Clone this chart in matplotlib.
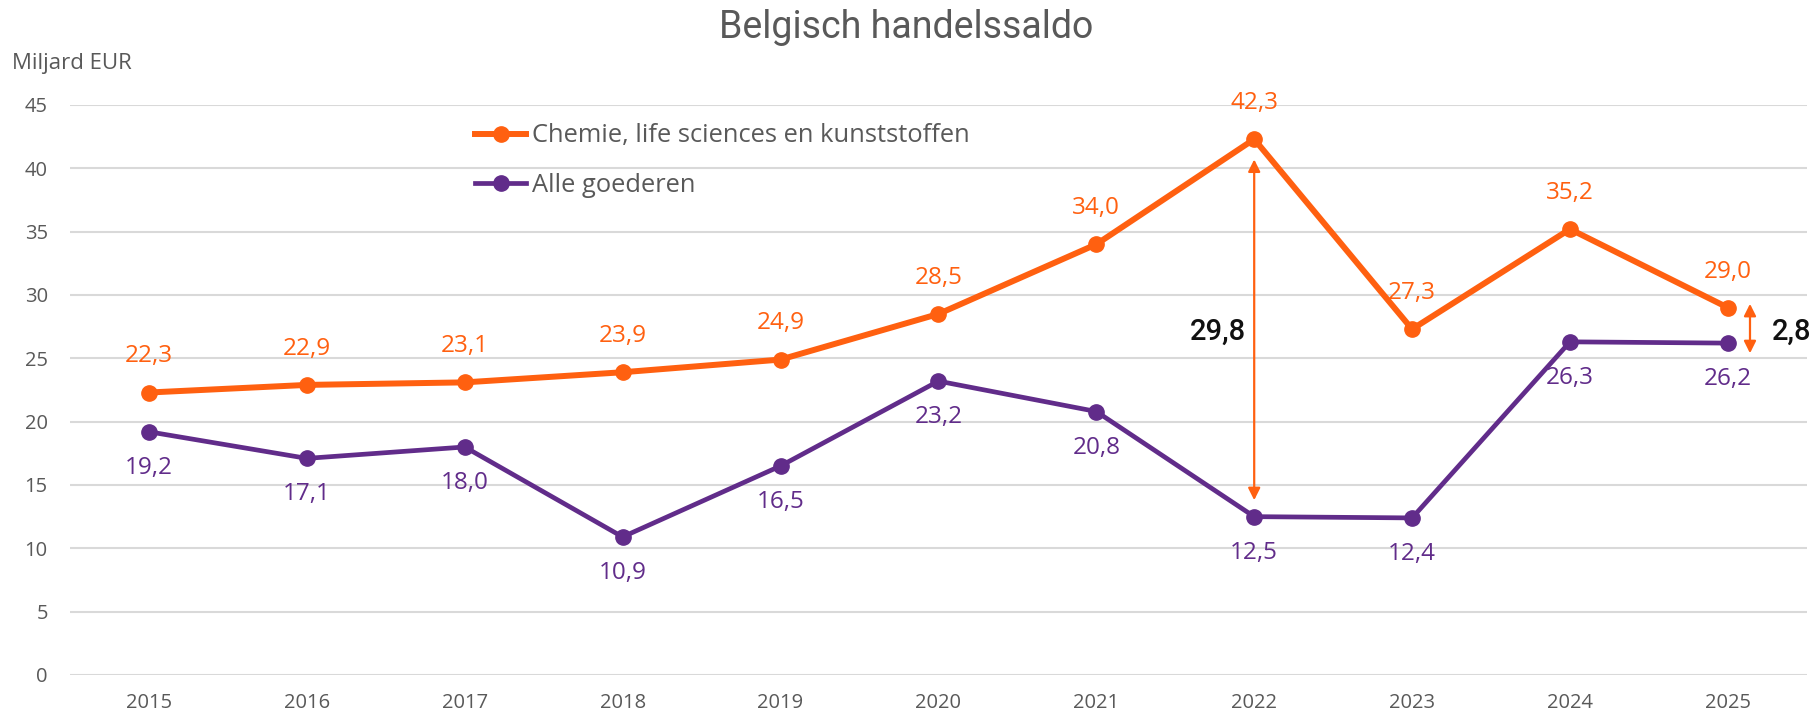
import matplotlib
matplotlib.use("Agg")
import matplotlib.pyplot as plt
import numpy as np

# data
years = ["2015", "2016", "2017", "2018", "2019", "2020", "2021", "2022", "2023", "2024", "2025"]
chemie = [22.3, 22.9, 23.1, 23.9, 24.9, 28.5, 34.0, 42.3, 27.3, 35.2, 29.0]
alle = [19.2, 17.1, 18.0, 10.9, 16.5, 23.2, 20.8, 12.5, 12.4, 26.3, 26.2]

ORANGE = "#FF6010"
PURPLE = "#612C8A"
GREY = "#595959"
GRID = "#D9D9D9"
FONT = ["Open Sans", "DejaVu Sans"]
BLACKFONT = ["Roboto", "DejaVu Sans"]

plt.rcParams["font.family"] = FONT

fig = plt.figure(figsize=(18.13, 7.17), dpi=100)
ax = fig.add_axes([0.0386, 0.0586, 0.958, 0.795])

x = np.arange(len(years))
ax.plot(x, chemie, color=ORANGE, lw=4.3, marker="o", ms=11,
        label="Chemie, life sciences en kunststoffen", zorder=4)
ax.plot(x, alle, color=PURPLE, lw=3.4, marker="o", ms=11,
        label="Alle goederen", zorder=4)

# data labels
for i, v in enumerate(chemie):
    ax.annotate(f"{v:.1f}".replace(".", ","), (i, v), xytext=(0, 26),
                textcoords="offset points", ha="center", va="center",
                color=ORANGE, fontsize=17.5)
for i, v in enumerate(alle):
    ax.annotate(f"{v:.1f}".replace(".", ","), (i, v), xytext=(0, -26),
                textcoords="offset points", ha="center", va="center",
                color=PURPLE, fontsize=17.5)

# verschil-pijlen
i22 = years.index("2022")
d22 = chemie[i22] - alle[i22]
ax.annotate("", xy=(i22, chemie[i22] - 1.6), xytext=(i22, alle[i22] + 1.3),
            arrowprops=dict(arrowstyle="<|-|>", color=ORANGE, lw=1.6,
                            mutation_scale=18, shrinkA=0, shrinkB=0))
ax.text(i22 - 0.05, (chemie[i22] + alle[i22]) / 2 - 0.3, f"{d22:.1f}".replace(".", ","),
        ha="right", va="center", fontsize=21, color="#111111",
        family=BLACKFONT, fontweight="medium")

i25 = years.index("2025")
d25 = chemie[i25] - alle[i25]
ax.annotate("", xy=(i25 + 0.14, chemie[i25] + 0.3), xytext=(i25 + 0.14, alle[i25] - 0.8),
            arrowprops=dict(arrowstyle="<|-|>", color=ORANGE, lw=1.6,
                            mutation_scale=18, shrinkA=0, shrinkB=0))
ax.text(i25 + 0.28, (chemie[i25] + alle[i25]) / 2 - 0.5, f"{d25:.1f}".replace(".", ","),
        ha="left", va="center", fontsize=21, color="#111111",
        family=BLACKFONT, fontweight="medium")

ax.set_xlim(-0.5, len(years) - 0.5)
ax.set_ylim(0, 45)
ax.set_yticks(np.arange(0, 46, 5))
ax.set_xticks(x)
ax.set_xticklabels(years)
ax.grid(axis="y", color=GRID, lw=1.5)
ax.set_axisbelow(True)
for s in ax.spines.values():
    s.set_visible(False)
ax.tick_params(axis="both", length=0, colors=GREY, labelsize=14.5)
ax.tick_params(axis="x", pad=13)
ax.tick_params(axis="y", pad=16)

leg = ax.legend(loc="upper left", bbox_to_anchor=(0.226, 0.99), frameon=False,
                fontsize=18.4, labelcolor=GREY, handlelength=2.0, handletextpad=0.2,
                labelspacing=0.95, borderpad=0)

fig.text(12 / 1813, 1 - 64 / 717, "Miljard EUR", ha="left", va="center",
         fontsize=16, color=GREY)
fig.text(0.5, 1 - 27 / 717, "Belgisch handelssaldo", ha="center", va="center",
         fontsize=27, color=GREY, family=BLACKFONT)

fig.savefig("out.png", dpi=100)
